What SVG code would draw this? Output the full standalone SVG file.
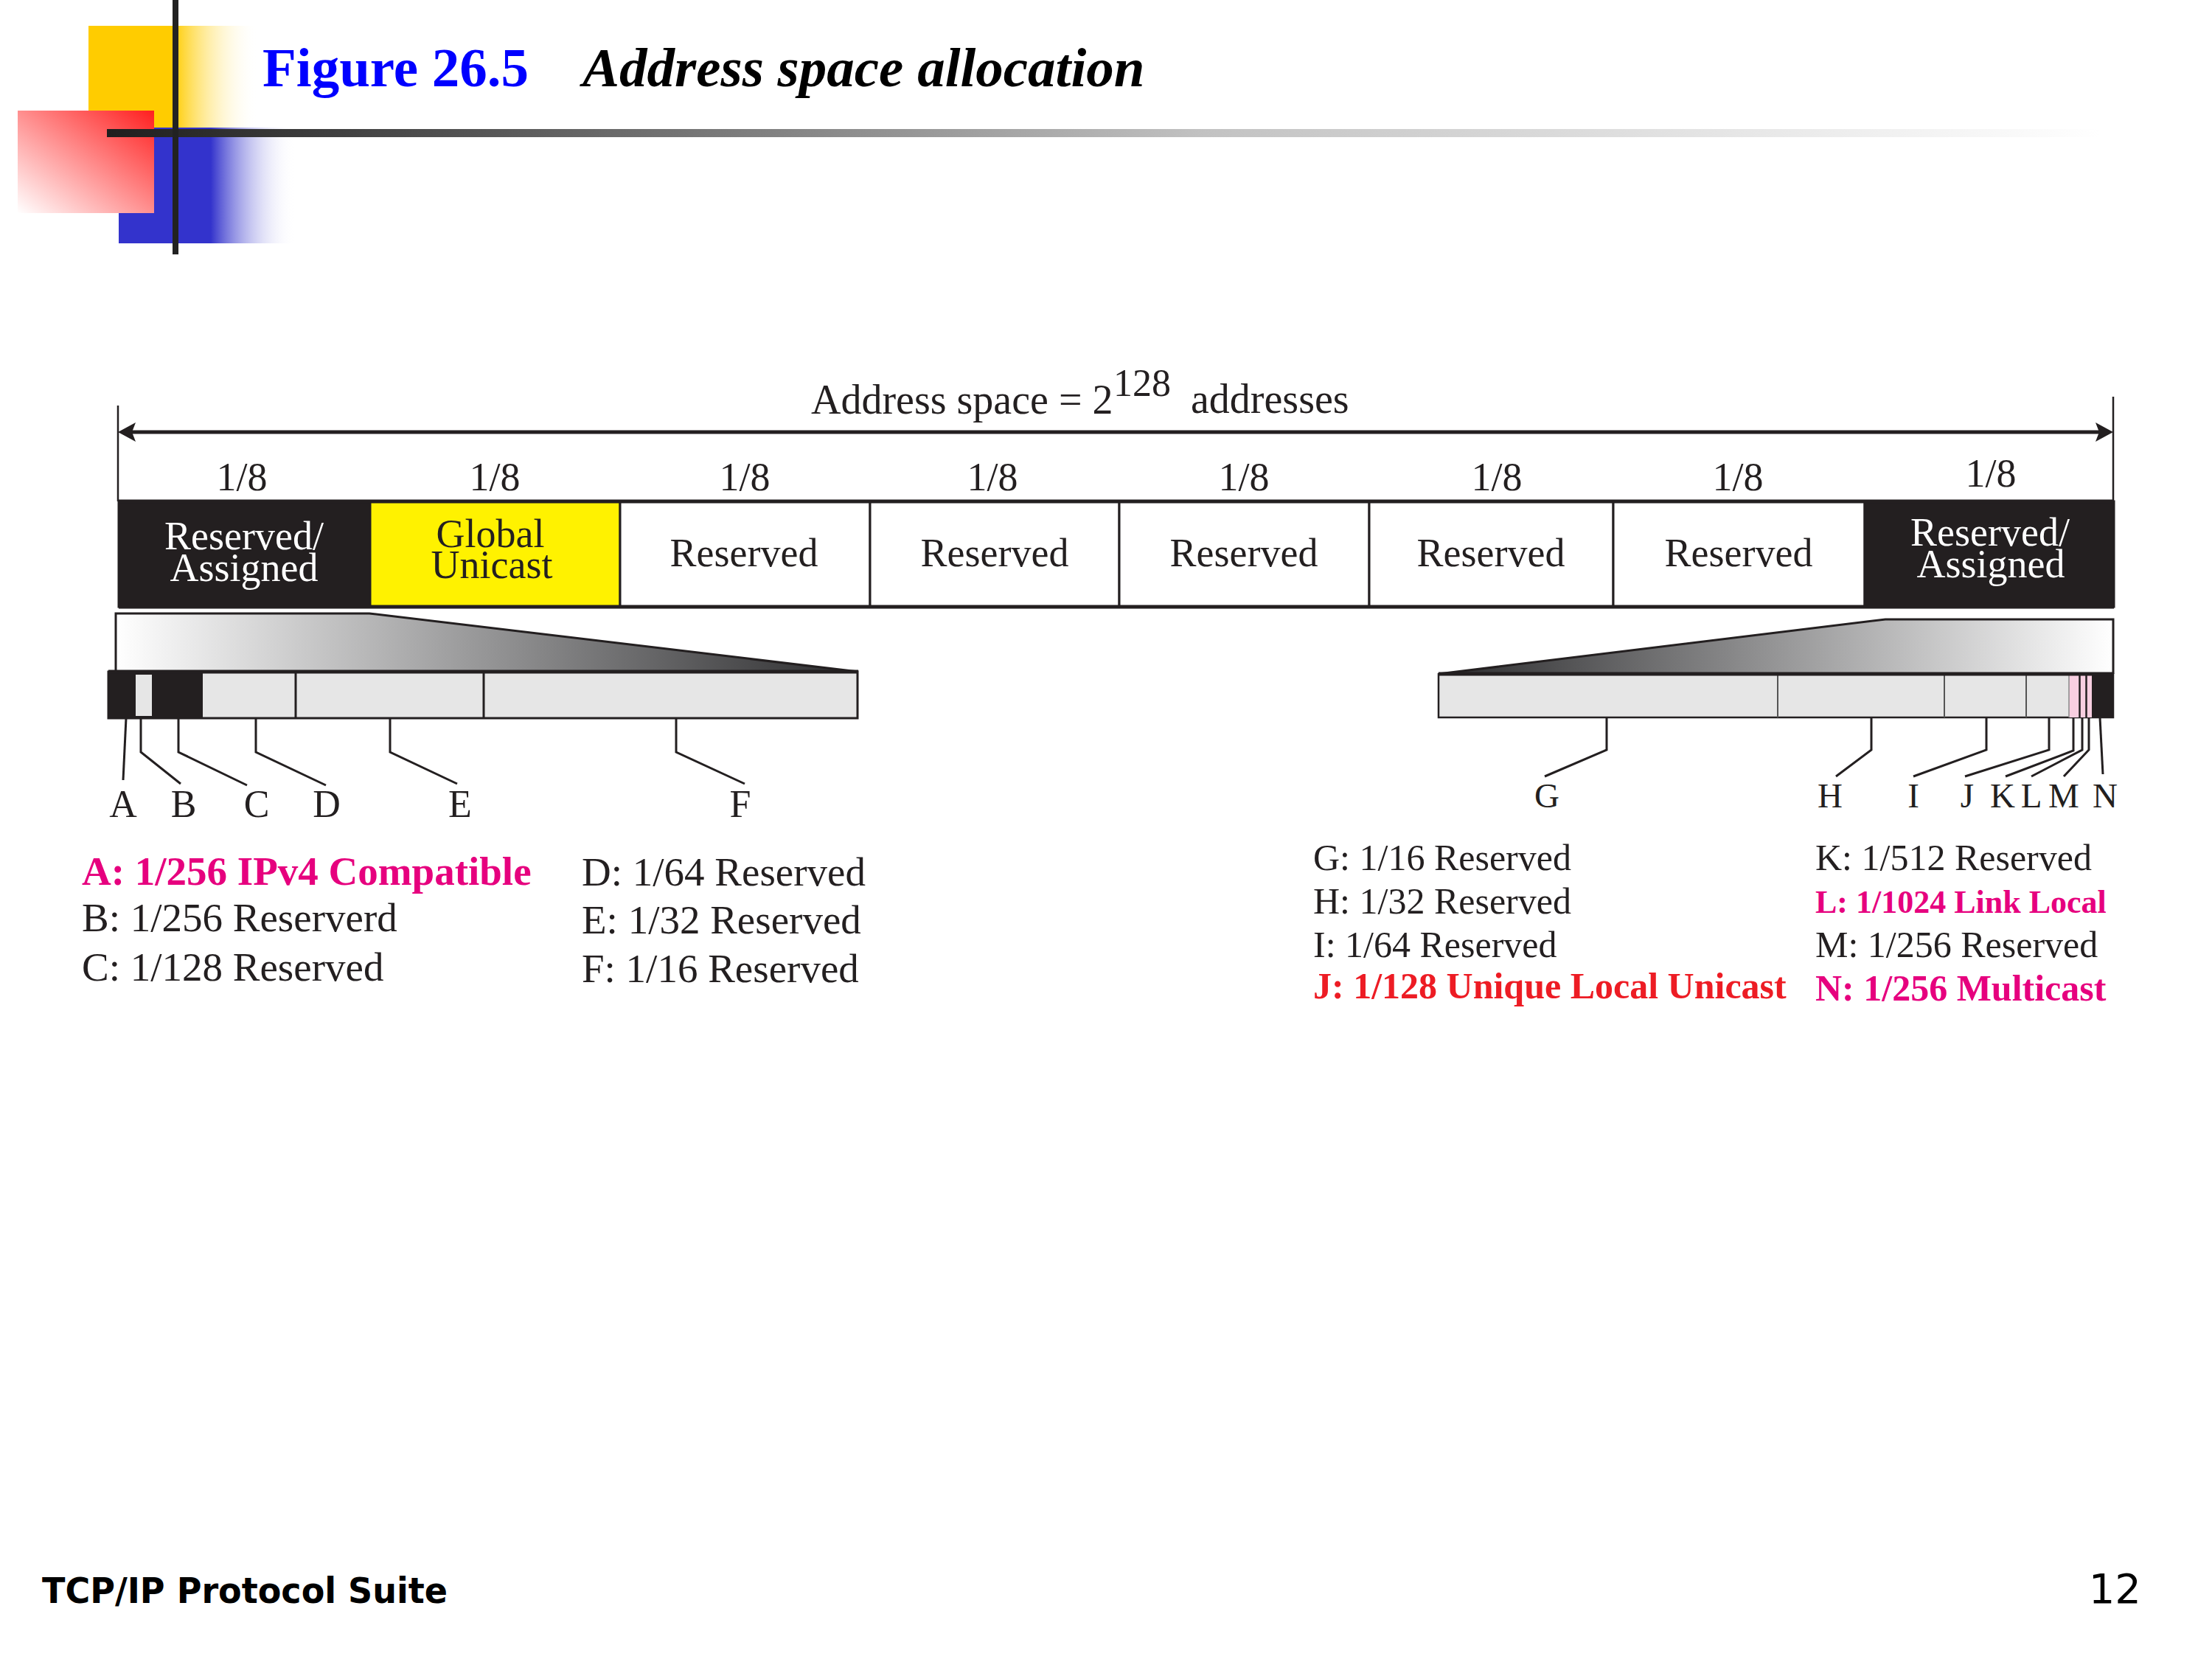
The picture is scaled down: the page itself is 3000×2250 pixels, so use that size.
<svg xmlns="http://www.w3.org/2000/svg" width="3000" height="2250" viewBox="0 0 3000 2250">
<defs>
<linearGradient id="gYellow" x1="0" y1="0" x2="1" y2="0">
<stop offset="0" stop-color="#ffcc00"/><stop offset="0.5" stop-color="#ffcc00"/><stop offset="1" stop-color="#ffffff" stop-opacity="0"/>
</linearGradient>
<linearGradient id="gBlue" x1="0" y1="0" x2="1" y2="0">
<stop offset="0" stop-color="#3333cc"/><stop offset="0.52" stop-color="#3333cc"/><stop offset="1" stop-color="#ffffff" stop-opacity="0"/>
</linearGradient>
<linearGradient id="gRed" x1="1" y1="0" x2="0" y2="1">
<stop offset="0" stop-color="#ff1f1f"/><stop offset="1" stop-color="#ffffff"/>
</linearGradient>
<linearGradient id="gBar" x1="145" y1="0" x2="2850" y2="0" gradientUnits="userSpaceOnUse">
<stop offset="0" stop-color="#1e1e1e"/><stop offset="0.55" stop-color="#c2c2c2"/><stop offset="1" stop-color="#ffffff"/>
</linearGradient>
<linearGradient id="gLeftTrap" x1="157" y1="0" x2="1164" y2="0" gradientUnits="userSpaceOnUse">
<stop offset="0" stop-color="#ffffff"/><stop offset="1" stop-color="#2b2b2d"/>
</linearGradient>
<linearGradient id="gRightTrap" x1="1951" y1="0" x2="2866" y2="0" gradientUnits="userSpaceOnUse">
<stop offset="0" stop-color="#2b2b2d"/><stop offset="1" stop-color="#ffffff"/>
</linearGradient>
<marker id="arrow" viewBox="0 0 24 26" refX="12" refY="13" markerWidth="24" markerHeight="26" markerUnits="userSpaceOnUse" orient="auto-start-reverse">
<path d="M0,0 L24,13 L0,26 L5,13 Z" fill="#231f20"/>
</marker>
<style>
.serif{font-family:"Liberation Serif","Times New Roman",serif;}
.t18{font-size:54px;fill:#231f20;text-anchor:middle;}
.cell{font-size:54px;fill:#231f20;text-anchor:middle;}
.white{fill:#ffffff;}
.let{font-size:52px;fill:#231f20;text-anchor:middle;}
.letR{font-size:47px;fill:#231f20;text-anchor:middle;}
.legL{font-size:55px;fill:#231f20;}
.legR{font-size:50px;fill:#231f20;}
.bold{font-weight:bold;}
.mag{fill:#e6007e;}
.red{fill:#ed1c24;}
.ln{stroke:#231f20;stroke-width:3;fill:none;}
.box{stroke:#231f20;stroke-width:3;}
</style>
</defs>

<g id="header">
<rect x="120" y="35" width="230" height="145" fill="url(#gYellow)"/>
<rect x="161" y="173" width="240" height="157" fill="url(#gBlue)"/>
<rect x="24" y="150" width="185" height="139" fill="url(#gRed)"/>
<rect x="145" y="175" width="2710" height="11" fill="url(#gBar)"/>
<rect x="234" y="0" width="8" height="345" fill="#222222"/>
<text x="356" y="117" class="serif bold" font-size="75" fill="#0000ff">Figure 26.5</text>
<text x="790" y="117" class="serif bold" font-size="75" font-style="italic" fill="#000000">Address space allocation</text>
</g>

<g id="connectors">
<line x1="172" y1="586" x2="2854" y2="586" stroke="#231f20" stroke-width="5" marker-start="url(#arrow)" marker-end="url(#arrow)"/>
<line x1="160" y1="550" x2="160" y2="680" stroke="#231f20" stroke-width="2.5"/>
<line x1="2866" y1="538" x2="2866" y2="680" stroke="#231f20" stroke-width="2.5"/>
<polyline class="ln" points="171,974 167,1058"/>
<polyline class="ln" points="191,974 191,1020 245,1063"/>
<polyline class="ln" points="242,974 242,1020 335,1065"/>
<polyline class="ln" points="347,974 347,1020 442,1065"/>
<polyline class="ln" points="529,974 529,1020 620,1063"/>
<polyline class="ln" points="917,974 917,1020 1010,1063"/>
<polyline class="ln" points="2179,973 2179,1017 2095,1053"/>
<polyline class="ln" points="2538,973 2538,1017 2490,1053"/>
<polyline class="ln" points="2694,973 2694,1017 2595,1053"/>
<polyline class="ln" points="2779,973 2779,1017 2665,1053"/>
<polyline class="ln" points="2812,973 2812,1018 2720,1053"/>
<polyline class="ln" points="2824,973 2824,1017 2755,1053"/>
<polyline class="ln" points="2833,973 2833,1017 2799,1053"/>
<polyline class="ln" points="2848,973 2852,1050"/>
</g>

<g id="title-space">
<text class="serif" font-size="56" fill="#231f20"><tspan x="1100" y="561">Address space = 2</tspan><tspan x="1510" y="537" font-size="52">128</tspan><tspan x="1615" y="560">addresses</tspan></text>
</g>

<g id="main-bar">
<rect class="box" x="161" y="680" width="341" height="143" fill="#231f20"/>
<rect class="box" x="502" y="680" width="339" height="143" fill="#fff200"/>
<rect class="box" x="841" y="680" width="339" height="143" fill="#ffffff"/>
<rect class="box" x="1180" y="680" width="338" height="143" fill="#ffffff"/>
<rect class="box" x="1518" y="680" width="339" height="143" fill="#ffffff"/>
<rect class="box" x="1857" y="680" width="331" height="143" fill="#ffffff"/>
<rect class="box" x="2188" y="680" width="341" height="143" fill="#ffffff"/>
<rect class="box" x="2529" y="680" width="338" height="143" fill="#231f20"/>
<line x1="161" y1="680" x2="2867" y2="680" stroke="#231f20" stroke-width="5"/>
<line x1="161" y1="823" x2="2867" y2="823" stroke="#231f20" stroke-width="5"/>
<text class="serif t18" x="328" y="665">1/8</text>
<text class="serif t18" x="671" y="665">1/8</text>
<text class="serif t18" x="1010" y="665">1/8</text>
<text class="serif t18" x="1346" y="665">1/8</text>
<text class="serif t18" x="1687" y="665">1/8</text>
<text class="serif t18" x="2030" y="665">1/8</text>
<text class="serif t18" x="2357" y="665">1/8</text>
<text class="serif t18" x="2700" y="660">1/8</text>
<text class="serif cell white"><tspan x="331" y="745">Reserved/</tspan><tspan x="331" y="788">Assigned</tspan></text>
<text class="serif cell"><tspan x="665" y="742">Global</tspan><tspan x="667" y="784">Unicast</tspan></text>
<text class="serif cell" x="1009" y="768">Reserved</text>
<text class="serif cell" x="1349" y="768">Reserved</text>
<text class="serif cell" x="1687" y="768">Reserved</text>
<text class="serif cell" x="2022" y="768">Reserved</text>
<text class="serif cell" x="2358" y="768">Reserved</text>
<text class="serif cell white"><tspan x="2699" y="740">Reserved/</tspan><tspan x="2700" y="783">Assigned</tspan></text>
</g>

<g id="left-expansion">
<polygon points="157,832 501,832 1164,911 157,911" fill="url(#gLeftTrap)"/>
<polyline points="157,911 157,832 501,832 1164,911" fill="none" stroke="#231f20" stroke-width="3"/>
<rect x="147" y="911" width="1016" height="63" fill="#e6e6e6" stroke="#231f20" stroke-width="3"/>
<rect x="147" y="911" width="128" height="63" fill="#231f20"/>
<rect x="184" y="915" width="22" height="56" fill="#e6e6e6"/>
<line x1="401" y1="911" x2="401" y2="974" stroke="#231f20" stroke-width="3"/>
<line x1="656" y1="911" x2="656" y2="974" stroke="#231f20" stroke-width="3"/>
<line x1="147" y1="911" x2="1164" y2="911" stroke="#231f20" stroke-width="5"/>
<text class="serif let" x="167" y="1108">A</text>
<text class="serif let" x="249" y="1108">B</text>
<text class="serif let" x="348" y="1108">C</text>
<text class="serif let" x="443" y="1108">D</text>
<text class="serif let" x="624" y="1108">E</text>
<text class="serif let" x="1004" y="1108">F</text>
</g>

<g id="right-expansion">
<polygon points="1951,914 2557,840 2866,840 2866,914" fill="url(#gRightTrap)"/>
<polyline points="1951,914 2557,840 2866,840 2866,914" fill="none" stroke="#231f20" stroke-width="3"/>
<rect x="1951" y="914" width="915" height="59" fill="#e6e6e6" stroke="#231f20" stroke-width="2.5"/>
<line x1="2411" y1="914" x2="2411" y2="973" stroke="#555555" stroke-width="2"/>
<line x1="2637" y1="914" x2="2637" y2="973" stroke="#555555" stroke-width="2"/>
<line x1="2748" y1="914" x2="2748" y2="973" stroke="#555555" stroke-width="2"/>
<rect x="2806" y="914" width="31" height="59" fill="#f8cfe1"/>
<line x1="2806" y1="914" x2="2806" y2="973" stroke="#888888" stroke-width="1.5"/>
<line x1="2820.5" y1="914" x2="2820.5" y2="973" stroke="#231f20" stroke-width="2.5"/>
<line x1="2829.5" y1="914" x2="2829.5" y2="973" stroke="#231f20" stroke-width="2.5"/>
<rect x="2837" y="914" width="30" height="59" fill="#231f20"/>
<line x1="1951" y1="914" x2="2867" y2="914" stroke="#231f20" stroke-width="5"/>
<text class="serif letR" x="2098" y="1095">G</text>
<text class="serif letR" x="2482" y="1095">H</text>
<text class="serif letR" x="2595" y="1095">I</text>
<text class="serif letR" x="2668" y="1095">J</text>
<text class="serif letR" x="2716" y="1095">K</text>
<text class="serif letR" x="2755" y="1095">L</text>
<text class="serif letR" x="2799" y="1095">M</text>
<text class="serif letR" x="2855" y="1095">N</text>
</g>

<g id="legend-left">
<text class="serif legL bold mag" x="111" y="1200">A: 1/256 IPv4 Compatible</text>
<text class="serif legL" x="111" y="1263">B: 1/256 Reserverd</text>
<text class="serif legL" x="111" y="1330">C: 1/128 Reserved</text>
<text class="serif legL" x="789" y="1201">D: 1/64 Reserved</text>
<text class="serif legL" x="789" y="1266">E: 1/32 Reserved</text>
<text class="serif legL" x="789" y="1332">F: 1/16 Reserved</text>
</g>

<g id="legend-right">
<text class="serif legR" x="1781" y="1180">G: 1/16 Reserved</text>
<text class="serif legR" x="1781" y="1239">H: 1/32 Reserved</text>
<text class="serif legR" x="1781" y="1298">I: 1/64 Reserved</text>
<text class="serif legR bold red" x="1781" y="1354">J: 1/128 Unique Local Unicast</text>
<text class="serif legR" x="2462" y="1180">K: 1/512 Reserved</text>
<text class="serif bold mag" font-size="44" x="2462" y="1238">L: 1/1024 Link Local</text>
<text class="serif legR" x="2462" y="1298">M: 1/256 Reserved</text>
<text class="serif legR bold mag" x="2462" y="1357">N: 1/256 Multicast</text>
</g>

<g id="footer">
<text x="57" y="2174" font-family="'DejaVu Sans','Verdana',sans-serif" font-weight="bold" font-size="48" textLength="550" lengthAdjust="spacingAndGlyphs" fill="#000000">TCP/IP Protocol Suite</text>
<text x="2904" y="2174" font-family="'DejaVu Sans','Verdana',sans-serif" font-size="56" text-anchor="end" fill="#000000">12</text>
</g>
</svg>
